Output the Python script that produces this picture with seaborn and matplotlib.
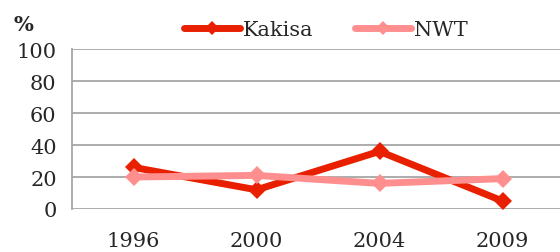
import pandas as pd
import matplotlib
matplotlib.use("Agg")
import matplotlib.pyplot as plt
from matplotlib.ticker import FixedLocator, NullFormatter
import seaborn as sns

sns.set_style("white")
plt.rcParams['font.family'] = ['DejaVu Serif', 'Liberation Serif']

years = ["1996", "2000", "2004", "2009"]
kakisa = [26, 12, 36, 5]
nwt = [20, 21, 16, 19]

df = pd.DataFrame({
    "year": years * 2,
    "pct": kakisa + nwt,
    "group": ["Kakisa"] * 4 + ["NWT"] * 4,
})

colors = {"Kakisa": "#E82000", "NWT": "#FF8F8F"}

fig = plt.figure(figsize=(5.6, 2.53), dpi=100)
ax = fig.add_axes([72 / 560, 43 / 253, 492 / 560, 160 / 253])

for name in ["Kakisa", "NWT"]:
    sub = df[df["group"] == name]
    sns.lineplot(data=sub, x="year", y="pct", ax=ax, color=colors[name],
                 linewidth=5, marker="D", markersize=9, markeredgewidth=0,
                 label=name, sort=False)

ax.set_xlim(-0.5, 3.5)
ax.set_ylim(0, 100)
ax.set_yticks([0, 20, 40, 60, 80, 100])
ax.yaxis.grid(True, color="#A6A6A6", linewidth=1.3)
ax.set_axisbelow(True)
for s in ["top", "right", "bottom"]:
    ax.spines[s].set_visible(False)
ax.spines["left"].set_color("#A6A6A6")
ax.spines["left"].set_linewidth(1.3)

ax.xaxis.set_major_locator(FixedLocator([-0.5, 0.5, 1.5, 2.5, 3.5]))
ax.xaxis.set_major_formatter(NullFormatter())
ax.xaxis.set_minor_locator(FixedLocator([0, 1, 2, 3]))
ax.set_xticklabels(years, minor=True)
ax.tick_params(axis="x", which="major", length=8, width=1.3, color="#A6A6A6", direction="in")
ax.tick_params(axis="x", which="minor", length=0, pad=16, labelsize=15)
ax.tick_params(axis="y", length=8, width=1.3, color="#A6A6A6", labelsize=15, pad=3)
ax.set_xlabel("")
ax.set_ylabel("")

fig.text(13 / 560, 1 - 25 / 253, "%", fontsize=15, fontweight="bold", va="center")

leg = ax.legend(loc="center", bbox_to_anchor=(0.516, 1.12), ncol=2, frameon=False,
                fontsize=15, handlelength=2.7, columnspacing=2.0, handletextpad=0.15,
                markerscale=0.8)
for h in leg.get_lines():
    h.set_solid_capstyle("round")
    h.set_linewidth(5)

fig.savefig("out.png", dpi=100)
